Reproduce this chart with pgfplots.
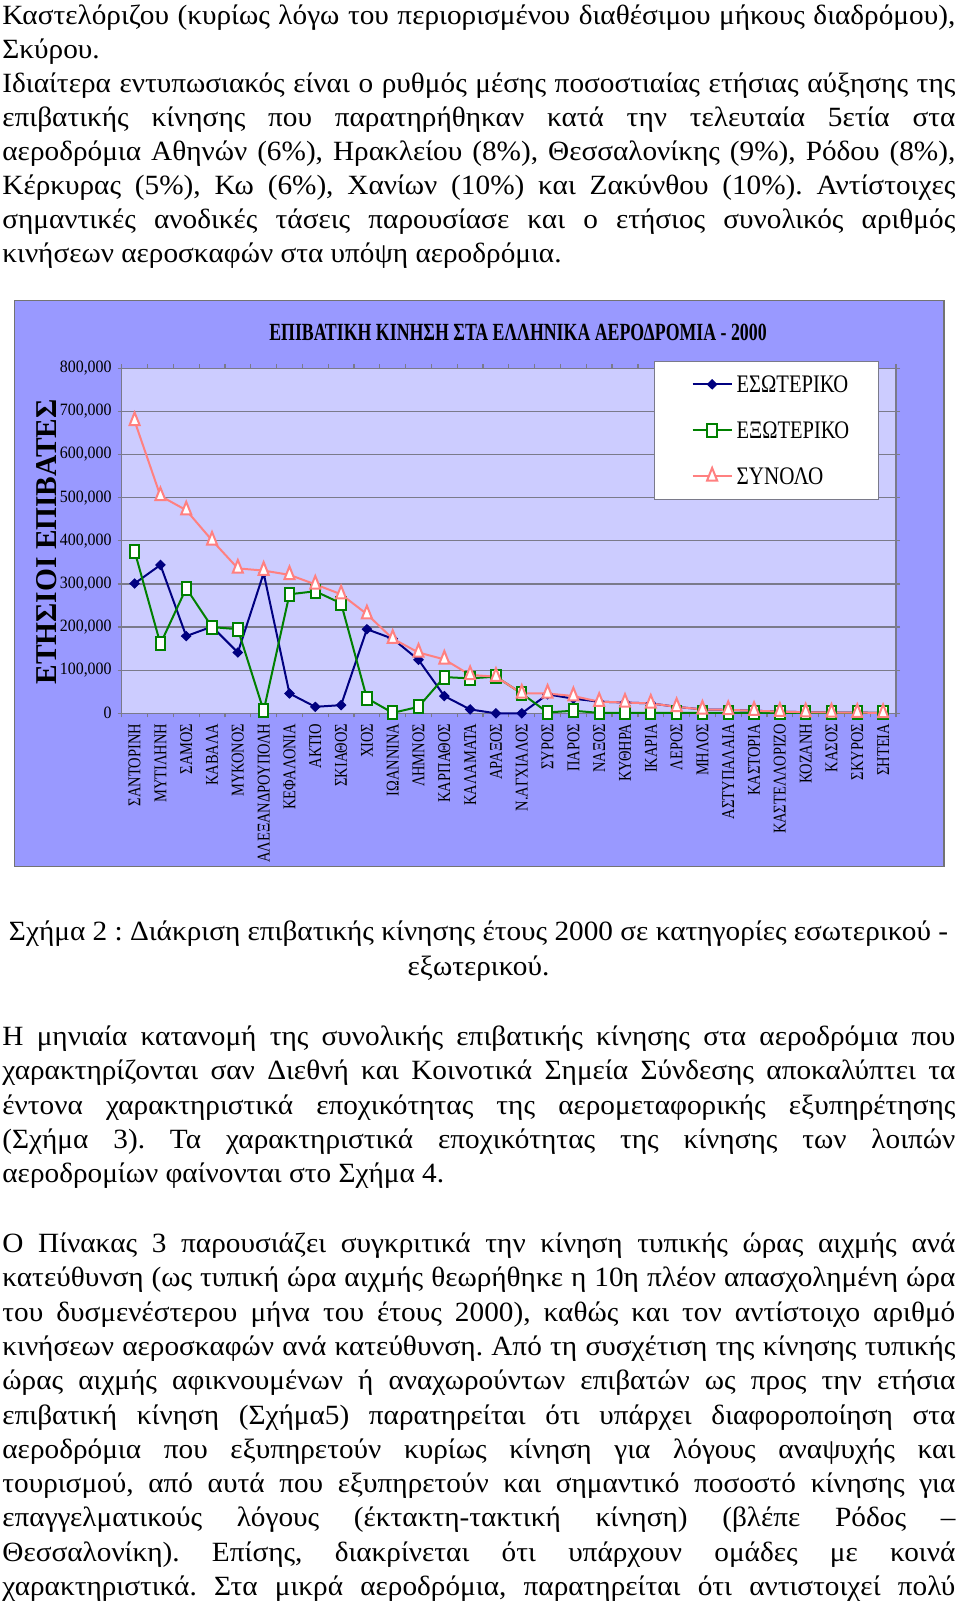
\documentclass[border=0pt]{standalone}
\usepackage{fontspec}
\setmainfont{Liberation Serif}
\newfontfamily\bodyfont[FakeStretch=1.05]{Liberation Serif}
\usepackage{pgfplots}
\usepackage{pgfplotstable}
\usepackage{graphicx}
\pgfplotsset{compat=1.18}

\definecolor{chartbg}{HTML}{9999FF}
\definecolor{plotbg}{HTML}{CCCCFF}
\definecolor{navyc}{HTML}{000080}
\definecolor{greenc}{HTML}{008000}
\definecolor{pinkc}{HTML}{FF8080}
\definecolor{gridc}{HTML}{7A7A8A}

\pgfplotstableread{
i dom ext tot
0 301000 376000 678000
1 344000 161000 504000
2 179000 290000 471000
3 201000 200000 401000
4 141000 195000 336000
5 325000 6000 331000
6 46000 276000 321000
7 15000 283000 299000
8 19000 255000 276000
9 195000 35000 230000
10 173000 1000 173000
11 124000 15000 141000
12 40000 84000 125000
13 9000 81000 89000
14 0 85000 85000
15 0 46000 46000
16 44000 2000 46000
17 34000 6000 40000
18 27000 1000 27000
19 25000 1000 25000
20 23000 1000 23000
21 15000 1000 15000
22 9000 1000 9000
23 8000 1000 8000
24 6000 1000 6000
25 4000 1000 4000
26 2500 1000 2500
27 2000 1000 2000
28 1500 1000 1500
29 1000 1000 1000
}\chartdata

\newlength\tmpw
\def\toff{7.5}
\newcommand\JL[2]{\node[anchor=base west,inner sep=0pt] at (1pt,{-(#1+\toff)*0.5pt}) {\makebox[476.5pt][s]{#2}};}
\newcommand\LL[2]{\node[anchor=base west,inner sep=0pt] at (1pt,{-(#1+\toff)*0.5pt}) {#2};}
\newcommand\CL[2]{\node[anchor=base,inner sep=0pt] at (239.25pt,{-(#1+\toff)*0.5pt}) {#2};}
\newcommand\yl[1]{\scalebox{\ylscale}[1]{\fontsize{8.65pt}{10pt}\selectfont #1}}
\newcommand\xl[1]{\scalebox{\xlscale}[1]{\fontsize{9pt}{10pt}\selectfont #1}}
\newcommand\lgt[2]{\makebox[71pt][l]{\resizebox{#1}{8.35pt}{#2}}}

\begin{document}
\frenchspacing
\settowidth\tmpw{\bodyfont\fontsize{10pt}{12pt}\selectfont Σχήμα 2 : Διάκριση επιβατικής κίνησης έτους 2000 σε κατηγορίες εσωτερικού -}%
\pgfmathsetmacro\bodysize{10*469.5/\tmpw}%
\settowidth\tmpw{\fontsize{8.65pt}{10pt}\selectfont 800,000}%
\pgfmathsetmacro\ylscale{25.85/\tmpw}%
\settowidth\tmpw{\fontsize{9pt}{10pt}\selectfont ΑΛΕΞΑΝΔΡΟΥΠΟΛΗ}%
\pgfmathsetmacro\xlscale{69.5/\tmpw}%
\begin{tikzpicture}
\path[use as bounding box] (0,0) rectangle (480pt,-803pt);
\begin{scope}[font=\bodyfont\fontsize{\bodysize pt}{17pt}\selectfont]
\JL{16.9}{Καστελόριζου (κυρίως λόγω του περιορισμένου διαθέσιμου μήκους διαδρόμου),}
\LL{50.6}{Σκύρου.}
\JL{84.5}{Ιδιαίτερα εντυπωσιακός είναι ο ρυθμός μέσης ποσοστιαίας ετήσιας αύξησης της}
\JL{118.5}{επιβατικής κίνησης που παρατηρήθηκαν κατά την τελευταία 5ετία στα}
\JL{152.6}{αεροδρόμια Αθηνών (6\%), Ηρακλείου (8\%), Θεσσαλονίκης (9\%), Ρόδου (8\%),}
\JL{186.7}{Κέρκυρας (5\%), Κω (6\%), Χανίων (10\%) και Ζακύνθου (10\%). Αντίστοιχες}
\JL{220.8}{σημαντικές ανοδικές τάσεις παρουσίασε και ο ετήσιος συνολικός αριθμός}
\LL{254.9}{κινήσεων αεροσκαφών στα υπόψη αεροδρόμια.}
\CL{933}{Σχήμα 2 : Διάκριση επιβατικής κίνησης έτους 2000 σε κατηγορίες εσωτερικού -}
\CL{968}{εξωτερικού.}
\JL{1038}{Η μηνιαία κατανομή της συνολικής επιβατικής κίνησης στα αεροδρόμια που}
\JL{1072.3}{χαρακτηρίζονται σαν Διεθνή και Κοινοτικά Σημεία Σύνδεσης αποκαλύπτει τα}
\JL{1106.6}{έντονα χαρακτηριστικά εποχικότητας της αερομεταφορικής εξυπηρέτησης}
\JL{1140.9}{(Σχήμα 3). Τα χαρακτηριστικά εποχικότητας της κίνησης των λοιπών}
\LL{1175.2}{αεροδρομίων φαίνονται στο Σχήμα 4.}
\JL{1245}{Ο Πίνακας 3 παρουσιάζει συγκριτικά την κίνηση τυπικής ώρας αιχμής ανά}
\JL{1279.3}{κατεύθυνση (ως τυπική ώρα αιχμής θεωρήθηκε η 10η πλέον απασχολημένη ώρα}
\JL{1313.6}{του δυσμενέστερου μήνα του έτους 2000), καθώς και τον αντίστοιχο αριθμό}
\JL{1347.9}{κινήσεων αεροσκαφών ανά κατεύθυνση. Από τη συσχέτιση της κίνησης τυπικής}
\JL{1382.2}{ώρας αιχμής αφικνουμένων ή αναχωρούντων επιβατών ως προς την ετήσια}
\JL{1416.5}{επιβατική κίνηση (Σχήμα5) παρατηρείται ότι υπάρχει διαφοροποίηση στα}
\JL{1450.8}{αεροδρόμια που εξυπηρετούν κυρίως κίνηση για λόγους αναψυχής και}
\JL{1485.1}{τουρισμού, από αυτά που εξυπηρετούν και σημαντικό ποσοστό κίνησης για}
\JL{1519.4}{επαγγελματικούς λόγους (έκτακτη-τακτική κίνηση) (βλέπε Ρόδος –}
\JL{1553.7}{Θεσσαλονίκη). Επίσης, διακρίνεται ότι υπάρχουν ομάδες με κοινά}
\JL{1588}{χαρακτηριστικά. Στα μικρά αεροδρόμια, παρατηρείται ότι αντιστοιχεί πολύ}
\end{scope}
% chart area
\fill[chartbg] (7.15pt,-150.35pt) rectangle (472pt,-433.35pt);
\draw[black!55, line width=0.6pt] (7.15pt,-150.35pt) rectangle (472pt,-433.35pt);
\begin{axis}[
  at={(60.85pt,-356.65pt)}, anchor=south west,
  scale only axis, width=387.15pt, height=172.5pt,
  xmin=-0.5, xmax=29.5, ymin=0, ymax=800000,
  clip=false,
  scaled y ticks=false,
  axis background/.style={fill=plotbg},
  axis line style={draw=gridc, line width=0.6pt},
  tick align=outside, major tick length=2pt,
  tick style={draw=gridc, line width=0.6pt},
  ytick={0,100000,200000,300000,400000,500000,600000,700000,800000},
  yticklabels={{\yl{0}},{\yl{100,000}},{\yl{200,000}},{\yl{300,000}},{\yl{400,000}},{\yl{500,000}},{\yl{600,000}},{\yl{700,000}},{\yl{800,000}}},
  ymajorgrids, grid style={draw=gridc, line width=0.6pt},
  xtick={-0.5,0.5,...,29.5},
  x tick label as interval,
  xticklabels={{\xl{ΣΑΝΤΟΡΙΝΗ}},{\xl{ΜΥΤΙΛΗΝΗ}},{\xl{ΣΑΜΟΣ}},{\xl{ΚΑΒΑΛΑ}},{\xl{ΜΥΚΟΝΟΣ}},{\xl{ΑΛΕΞΑΝΔΡΟΥΠΟΛΗ}},{\xl{ΚΕΦΑΛΟΝΙΑ}},{\xl{ΑΚΤΙΟ}},{\xl{ΣΚΙΑΘΟΣ}},{\xl{ΧΙΟΣ}},{\xl{ΙΩΑΝΝΙΝΑ}},{\xl{ΛΗΜΝΟΣ}},{\xl{ΚΑΡΠΑΘΟΣ}},{\xl{ΚΑΛΑΜΑΤΑ}},{\xl{ΑΡΑΞΟΣ}},{\xl{Ν.ΑΓΧΙΑΛΟΣ}},{\xl{ΣΥΡΟΣ}},{\xl{ΠΑΡΟΣ}},{\xl{ΝΑΞΟΣ}},{\xl{ΚΥΘΗΡΑ}},{\xl{ΙΚΑΡΙΑ}},{\xl{ΛΕΡΟΣ}},{\xl{ΜΗΛΟΣ}},{\xl{ΑΣΤΥΠΑΛΑΙΑ}},{\xl{ΚΑΣΤΟΡΙΑ}},{\xl{ΚΑΣΤΕΛΛΟΡΙΖΟ}},{\xl{ΚΟΖΑΝΗ}},{\xl{ΚΑΣΟΣ}},{\xl{ΣΚΥΡΟΣ}},{\xl{ΣΗΤΕΙΑ}}},
  xticklabel style={yshift=-3pt, rotate=90, anchor=east, inner sep=0pt},
  yticklabel style={xshift=-2.85pt, anchor=east, inner sep=0pt},
  legend style={at={(0.6875,1.022)}, anchor=north west, draw=gridc, fill=white, line width=0.6pt,
    inner xsep=0pt, inner ysep=0pt, row sep=0pt, column sep=2pt,
    nodes={inner sep=0pt, text height=8.35pt, text depth=0pt}},
  legend cell align=left,
  legend image code/.code={
    \path[draw=none, fill=none] (-19pt,-11.5pt) rectangle (19.5pt,11.5pt);
    \draw[mark repeat=2, mark phase=2, #1] plot coordinates {(0pt,0pt) (9.75pt,0pt) (19.5pt,0pt)};
  },
]
\addplot[draw=navyc, line width=1pt, mark=diamond*, mark size=2.3pt,
  mark options={fill=navyc, draw=navyc, xscale=1.35, line width=0.5pt}]
  table[x=i, y=dom] {\chartdata};
\addlegendentry{\lgt{55.8pt}{ΕΣΩΤΕΡΙΚΟ}}
\addplot[draw=greenc, line width=1pt, mark=square*, mark size=2.33pt,
  mark options={fill=white, draw=greenc, yscale=1.4, line width=1pt}]
  table[x=i, y=ext] {\chartdata};
\addlegendentry{\lgt{56.2pt}{ΕΞΩΤΕΡΙΚΟ}}
\addplot[draw=pinkc, line width=1pt, mark=triangle*, mark size=2.9pt,
  mark options={fill=white, draw=pinkc, yscale=1.45, line width=1pt}]
  table[x=i, y=tot] {\chartdata};
\addlegendentry{\lgt{43.3pt}{ΣΥΝΟΛΟ}}
\end{axis}
\node[inner sep=0pt] at (259pt,-166.25pt) {\resizebox{248.7pt}{8.2pt}{\bfseries ΕΠΙΒΑΤΙΚΗ ΚΙΝΗΣΗ ΣΤΑ ΕΛΛΗΝΙΚΑ ΑΕΡΟΔΡΟΜΙΑ - 2000}};
\node[rotate=90, inner sep=0pt] at (23.25pt,-271pt) {\resizebox{142.5pt}{10pt}{\bfseries ΕΤΗΣΙΟΙ ΕΠΙΒΑΤΕΣ}};
\end{tikzpicture}
\end{document}
